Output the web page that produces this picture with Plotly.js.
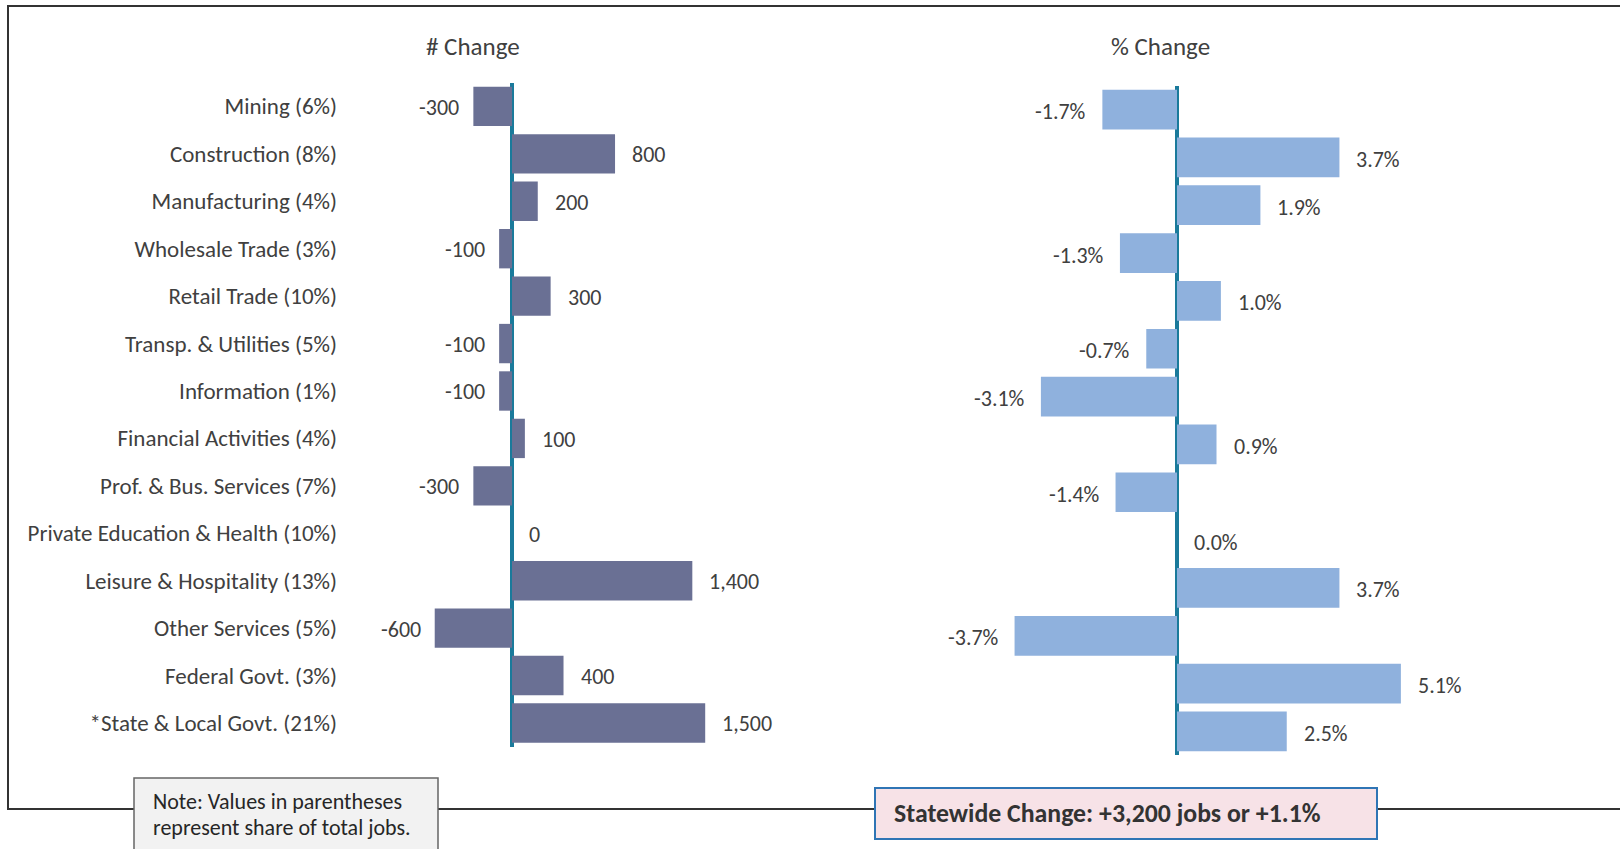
<!DOCTYPE html>
<html>
<head>
<meta charset="utf-8">
<script src="https://cdn.plot.ly/plotly-3.0.1.min.js"></script>
<style>
html,body{margin:0;padding:0;background:#fff;}
#chart{width:1620px;height:849px;}
</style>
</head>
<body>
<div id="chart"></div>
<script>
const categories = ["Mining (6%)", "Construction (8%)", "Manufacturing (4%)", "Wholesale Trade (3%)", "Retail Trade (10%)", "Transp. & Utilities (5%)", "Information (1%)", "Financial Activities (4%)", "Prof. & Bus. Services (7%)", "Private Education & Health (10%)", "Leisure & Hospitality (13%)", "Other Services (5%)", "Federal Govt. (3%)", "*State & Local Govt. (21%)"];
const numChange = [-300, 800, 200, -100, 300, -100, -100, 100, -300, 0, 1400, -600, 400, 1500];
const pctChange = [-1.7, 3.7, 1.9, -1.3, 1.0, -0.7, -3.1, 0.9, -1.4, 0.0, 3.7, -3.7, 5.1, 2.5];
const panelTitles = ["# Change", "% Change"];
const noteLines = ["Note: Values in parentheses", "represent share of total jobs."];
const statewideText = "Statewide Change: +3,200 jobs or +1.1%";

const W = 1620, H = 849;
const FONT = "Carlito, Lato, 'Open Sans', sans-serif";
const TXT = "#404040";
const px = v => v / W;
const py = v => 1 - v / H;

const numLabels = numChange.map(v => v.toLocaleString('en-US'));
const pctLabels = pctChange.map(v => v.toFixed(1) + '%');

const traces = [
  {type:'bar', orientation:'h', x:numChange, y:categories, xaxis:'x', yaxis:'y',
   marker:{color:'#6A7094'}, hoverinfo:'none'},
  {type:'bar', orientation:'h', x:pctChange, y:categories, xaxis:'x2', yaxis:'y2',
   marker:{color:'#8FB1DD'}, hoverinfo:'none'}
];

const annotations = [];
numChange.forEach((v, i) => {
  annotations.push({xref:'x', yref:'y', x:v, y:categories[i], text:numLabels[i], showarrow:false,
    xanchor: v < 0 ? 'right' : 'left', xshift: v < 0 ? -12 : 15, yshift:-1,
    font:{family:FONT, size:22, color:TXT}});
});
pctChange.forEach((v, i) => {
  annotations.push({xref:'x2', yref:'y2', x:v, y:categories[i], text:pctLabels[i], showarrow:false,
    xanchor: v < 0 ? 'right' : 'left', xshift: v < 0 ? -14 : 15, yshift:-2,
    font:{family:FONT, size:22, color:TXT}});
});
annotations.push({xref:'paper', yref:'paper', x:px(473), y:py(47), text:panelTitles[0], showarrow:false,
  xanchor:'center', yanchor:'middle', font:{family:FONT, size:25, color:TXT}});
annotations.push({xref:'paper', yref:'paper', x:px(1160), y:py(47), text:panelTitles[1], showarrow:false,
  xanchor:'center', yanchor:'middle', font:{family:FONT, size:25, color:TXT}});
annotations.push({xref:'paper', yref:'paper', x:px(151), y:py(801), text:noteLines[0], showarrow:false,
  xanchor:'left', yanchor:'middle', font:{family:FONT, size:22, color:'#262626'}});
annotations.push({xref:'paper', yref:'paper', x:px(151), y:py(827), text:noteLines[1], showarrow:false,
  xanchor:'left', yanchor:'middle', font:{family:FONT, size:22, color:'#262626'}});
annotations.push({xref:'paper', yref:'paper', x:px(892), y:py(813), text:'<b>' + statewideText + '</b>', showarrow:false,
  xanchor:'left', yanchor:'middle', font:{family:FONT, size:25.8, color:'#333333'}});

const shapes = [
  {type:'rect', xref:'paper', yref:'paper', x0:px(8), x1:px(1640), y0:py(809), y1:py(6),
   line:{color:'#333333', width:2}, fillcolor:'rgba(0,0,0,0)', layer:'below'},
  {type:'rect', xref:'paper', yref:'paper', x0:px(134), x1:px(438), y0:py(852), y1:py(778),
   line:{color:'#666666', width:1.5}, fillcolor:'#F2F2F2', layer:'above'},
  {type:'rect', xref:'paper', yref:'paper', x0:px(875), x1:px(1377), y0:py(839), y1:py(788),
   line:{color:'#2F75B5', width:2}, fillcolor:'#F7E2E7', layer:'above'}
];

const s1 = 0.1288, z1 = 512;
const s2 = 43.9, z2 = 1177;
const xr1 = [-1250, 2250], xr2 = [-4.5, 6.5];

const layout = {
  width:W, height:H, margin:{l:0, r:0, t:0, b:0},
  paper_bgcolor:'#ffffff', plot_bgcolor:'rgba(0,0,0,0)',
  showlegend:false, bargap:0.17,
  font:{family:FONT, color:TXT},
  xaxis:{domain:[px(z1 + xr1[0]*s1), px(z1 + xr1[1]*s1)], range:xr1, anchor:'y',
    showgrid:false, showticklabels:false, ticks:'', zeroline:true, zerolinecolor:'#1A7A9B', zerolinewidth:4.5, fixedrange:true},
  yaxis:{domain:[1 - 746.7/H, 1 - 82.7/H], range:[13.5, -0.5], type:'category', anchor:'x',
    showgrid:false, showline:false, ticks:'', ticklabelstandoff:13,
    tickfont:{family:FONT, size:23, color:TXT}, fixedrange:true},
  xaxis2:{domain:[px(z2 + xr2[0]*s2), px(z2 + xr2[1]*s2)], range:xr2, anchor:'y2',
    showgrid:false, showticklabels:false, ticks:'', zeroline:true, zerolinecolor:'#1A7A9B', zerolinewidth:4.5, fixedrange:true},
  yaxis2:{domain:[1 - 755.4/H, 1 - 85.6/H], range:[13.5, -0.5], type:'category', anchor:'x2',
    showgrid:false, showline:false, ticks:'', showticklabels:false, fixedrange:true},
  annotations:annotations,
  shapes:shapes
};

Plotly.newPlot('chart', traces, layout, {displayModeBar:false, staticPlot:true});
</script>
</body>
</html>
